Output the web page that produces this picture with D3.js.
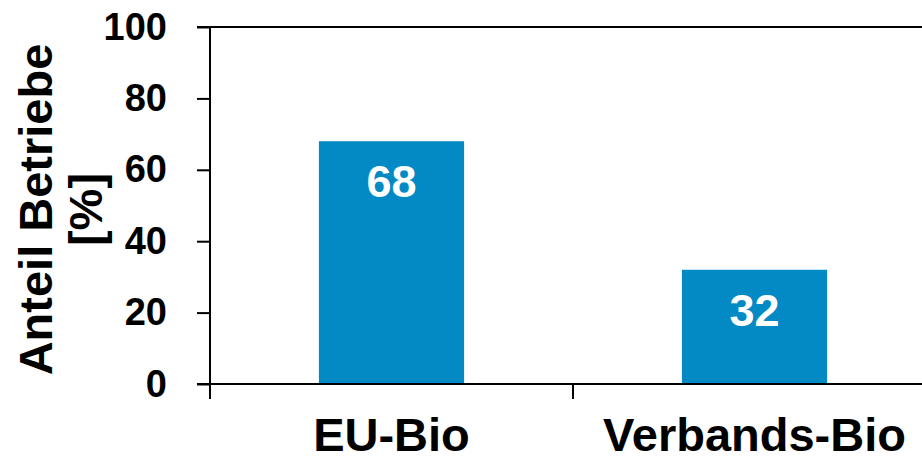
<!DOCTYPE html>
<html>
<head>
<meta charset="utf-8">
<script src="https://cdn.jsdelivr.net/npm/d3@7"></script>
<style>
  html, body { margin: 0; padding: 0; background: #fff; }
  svg { display: block; }
  text { font-family: "Liberation Sans", Arial, sans-serif; font-weight: bold; }
</style>
</head>
<body>
<svg id="chart" width="922" height="461"></svg>
<script>
const categories = ["EU-Bio", "Verbands-Bio"];
const values = [68, 32];
const yTicks = [0, 20, 40, 60, 80, 100];
const yTitleLines = ["Anteil Betriebe", "[%]"];

const W = 922, H = 461;
const mLeft = 210, mRight = 936, mTop = 27, mBottom = 384;

const svg = d3.select("#chart");

const x = d3.scaleBand().domain(categories).range([mLeft, mRight])
  .paddingInner(0.6).paddingOuter(0.3);
const y = d3.scaleLinear().domain([0, 100]).range([mBottom, mTop]);

// bars
svg.append("g").selectAll("rect").data(values).join("rect")
  .attr("x", (d, i) => x(categories[i]))
  .attr("y", d => y(d))
  .attr("width", x.bandwidth())
  .attr("height", d => y(0) - y(d))
  .attr("fill", "#0389C3");

// value labels
svg.append("g").selectAll("text").data(values).join("text")
  .attr("x", (d, i) => x(categories[i]) + x.bandwidth() / 2)
  .attr("y", d => y(d) + 56)
  .attr("text-anchor", "middle")
  .attr("font-size", 45)
  .attr("fill", "#fff")
  .text(d => d);

// top frame line
svg.append("line")
  .attr("x1", mLeft - 13).attr("x2", W)
  .attr("y1", y(100)).attr("y2", y(100))
  .attr("stroke", "#000").attr("stroke-width", 2);

// y axis
const yAxis = d3.axisLeft(y).tickValues(yTicks).tickSize(13).tickPadding(30).tickFormat(d3.format("d"));
const gy = svg.append("g").attr("transform", `translate(${mLeft},0)`).call(yAxis);
gy.select(".domain").attr("stroke-width", 2).attr("d", `M0,${mTop}V${mBottom}`);
gy.selectAll(".tick line").attr("stroke-width", 2);
gy.selectAll(".tick text").attr("font-size", 38).attr("font-family", "Liberation Sans, Arial, sans-serif")
  .attr("font-weight", "bold").attr("fill", "#000");

// x axis
const gx = svg.append("g");
gx.append("line")
  .attr("x1", mLeft - 13).attr("x2", W)
  .attr("y1", y(0)).attr("y2", y(0))
  .attr("stroke", "#000").attr("stroke-width", 2);
const xTickPos = categories.map(c => x(c) - x.step() * 0.3);
gx.selectAll("line.tk").data(xTickPos).join("line").attr("class", "tk")
  .attr("x1", d => d).attr("x2", d => d)
  .attr("y1", y(0)).attr("y2", y(0) + 15)
  .attr("stroke", "#000").attr("stroke-width", 2);
gx.selectAll("text").data(categories).join("text")
  .attr("x", d => x(d) + x.bandwidth() / 2)
  .attr("y", 451)
  .attr("text-anchor", "middle")
  .attr("font-size", 47)
  .attr("fill", "#000")
  .text(d => d);

// y title
const cy = (mTop + mBottom) / 2 + 4;
const t = svg.append("text")
  .attr("transform", `translate(52,${cy}) rotate(-90)`)
  .attr("text-anchor", "middle")
  .attr("font-size", 47)
  .attr("fill", "#000");
yTitleLines.forEach((line, i) => {
  t.append("tspan").attr("x", 0).attr("dy", i === 0 ? 0 : 50).text(line);
});
</script>
</body>
</html>
